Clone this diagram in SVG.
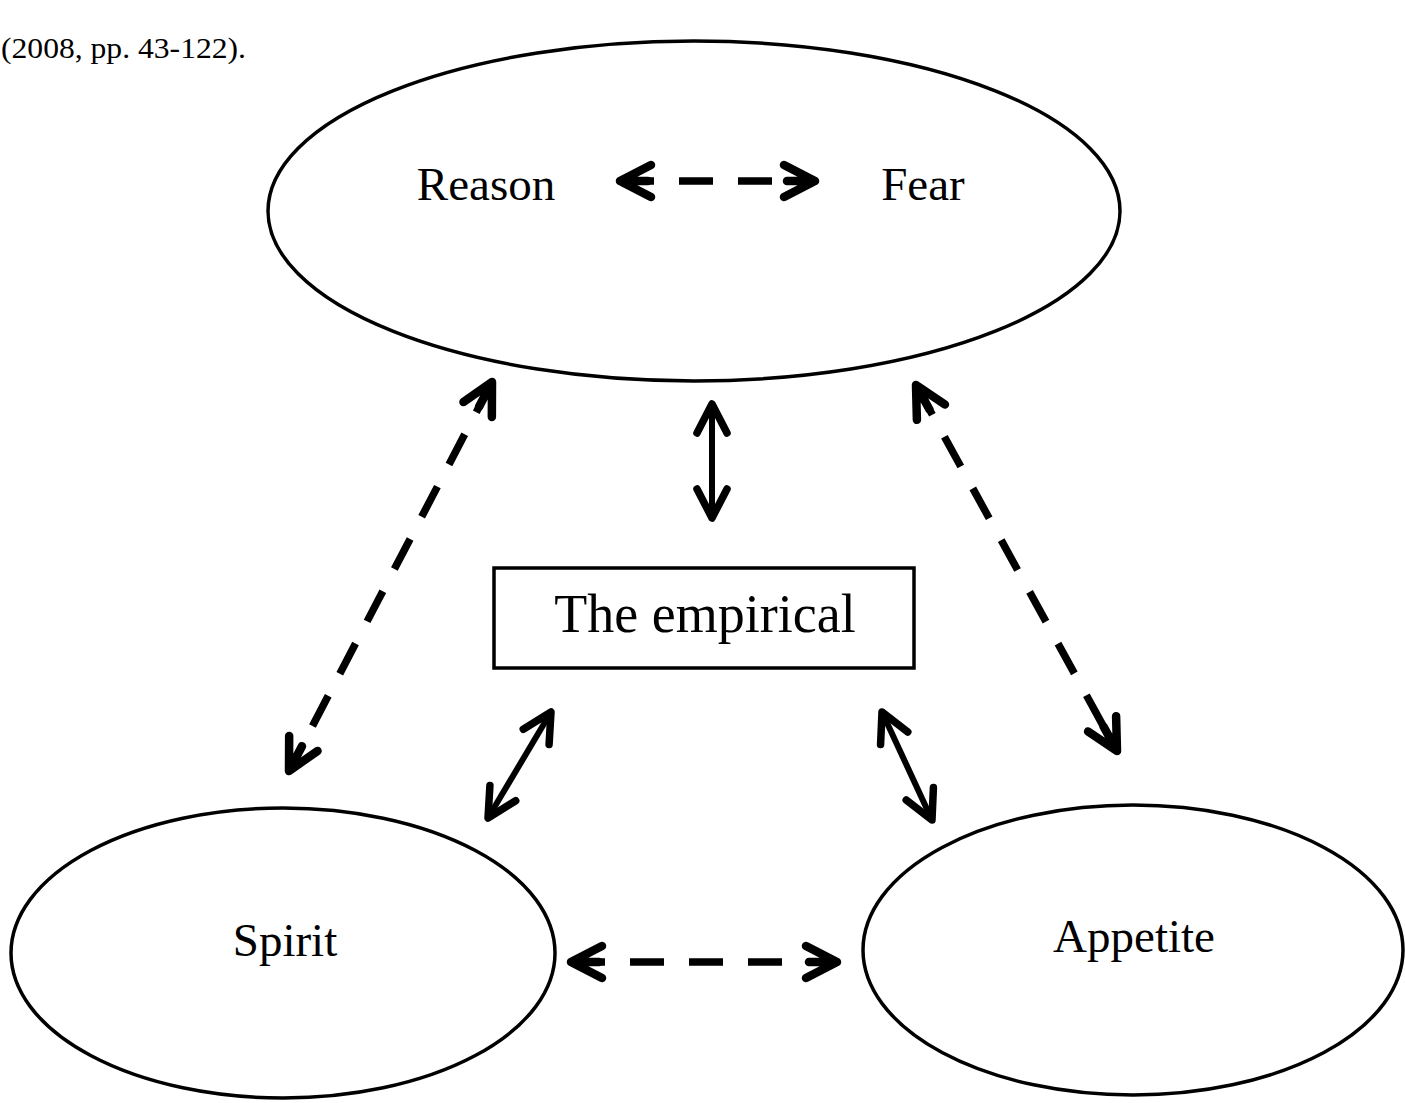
<svg xmlns="http://www.w3.org/2000/svg" width="1405" height="1103" viewBox="0 0 1405 1103">
<style>
  .node { fill: #fff; stroke: #000; stroke-width: 3.5; }
  .lbl { font-family: "Liberation Serif", "Times New Roman", serif; fill: #000; }
  .dash { fill: none; stroke: #000; stroke-width: 7.5; stroke-dasharray: 34 25; }
  .solid { fill: none; stroke: #000; stroke-width: 6; }
</style>
<defs>
  <marker id="hd" markerUnits="userSpaceOnUse" viewBox="-45 -25 55 50" refX="0" refY="0" markerWidth="55" markerHeight="50" orient="auto-start-reverse">
    <path d="M -31 -16 L 0 0 L -31 16 M 0 0 L -28 0" fill="none" stroke="#000" stroke-width="8.5" stroke-linecap="round" stroke-linejoin="round"/>
  </marker>
  <marker id="hs" markerUnits="userSpaceOnUse" viewBox="-45 -25 55 50" refX="0" refY="0" markerWidth="55" markerHeight="50" orient="auto-start-reverse">
    <path d="M -29 -15 L 0 0 L -29 15" fill="none" stroke="#000" stroke-width="7.5" stroke-linecap="round" stroke-linejoin="round"/>
  </marker>
</defs>
<rect width="1405" height="1103" fill="#fff"/>
<text class="lbl" x="1" y="58" font-size="30" textLength="245" lengthAdjust="spacingAndGlyphs">(2008, pp. 43-122).</text>

<g id="reason-fear">
  <ellipse class="node" cx="694" cy="211" rx="426" ry="170"/>
  <text class="lbl" x="486" y="200" font-size="47" text-anchor="middle">Reason</text>
  <text class="lbl" x="923" y="200" font-size="47" text-anchor="middle">Fear</text>
</g>
<g id="empirical">
  <rect class="node" x="494" y="568" width="420" height="100"/>
  <text class="lbl" x="705" y="632" font-size="54" text-anchor="middle">The empirical</text>
</g>
<g id="spirit">
  <ellipse class="node" cx="283" cy="953" rx="272" ry="145"/>
  <text class="lbl" x="285" y="956" font-size="47" text-anchor="middle">Spirit</text>
</g>
<g id="appetite">
  <ellipse class="node" cx="1133" cy="950" rx="270" ry="145"/>
  <text class="lbl" x="1134" y="952" font-size="47" text-anchor="middle">Appetite</text>
</g>

<g id="connectors">
  <path class="dash" d="M 620 181 L 815 181" marker-start="url(#hd)" marker-end="url(#hd)"/>
  <path class="dash" d="M 571 962 L 837 962" marker-start="url(#hd)" marker-end="url(#hd)"/>
  <path class="dash" d="M 492 382 L 289 771" marker-start="url(#hd)" marker-end="url(#hd)"/>
  <path class="dash" d="M 916 385 L 1117 751" marker-start="url(#hd)" marker-end="url(#hd)"/>
  <path class="solid" d="M 712 404 L 712 518" marker-start="url(#hs)" marker-end="url(#hs)"/>
  <path class="solid" d="M 551 712 L 488 818" marker-start="url(#hs)" marker-end="url(#hs)"/>
  <path class="solid" d="M 882 712 L 932 820" marker-start="url(#hs)" marker-end="url(#hs)"/>
</g>
</svg>
